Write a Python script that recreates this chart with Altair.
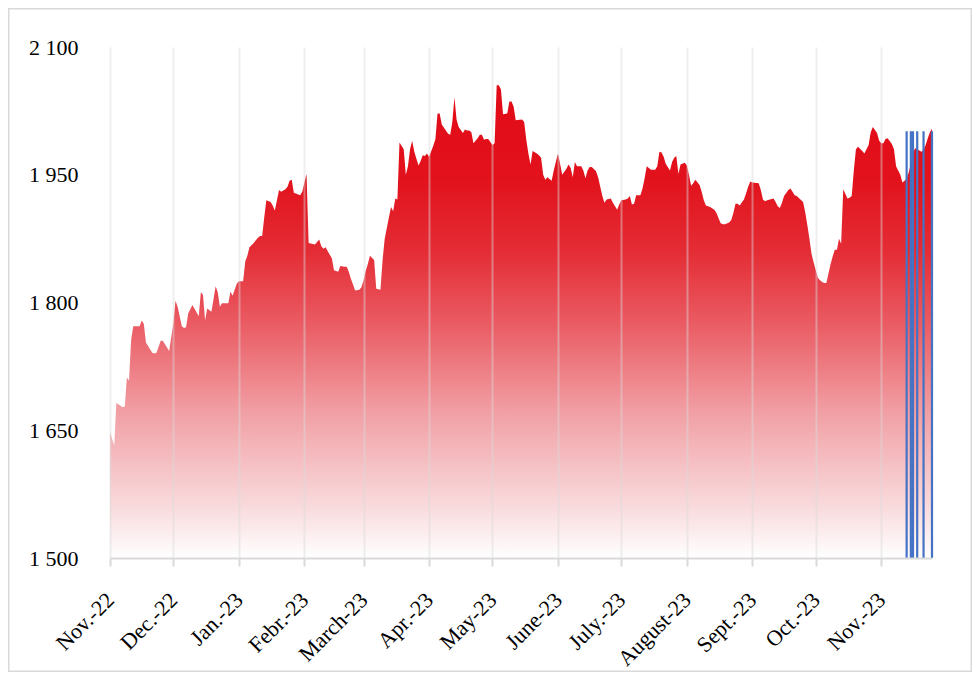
import altair as alt
import pandas as pd

# ---- data ----
dates = [
    "2022-11-01", "2022-11-03", "2022-11-04", "2022-11-07", "2022-11-08", "2022-11-09", "2022-11-10",
    "2022-11-11", "2022-11-12", "2022-11-14", "2022-11-15", "2022-11-16", "2022-11-17", "2022-11-18",
    "2022-11-21", "2022-11-22", "2022-11-23", "2022-11-25", "2022-11-26", "2022-11-29", "2022-12-01",
    "2022-12-02", "2022-12-03", "2022-12-05", "2022-12-06", "2022-12-07", "2022-12-08", "2022-12-10",
    "2022-12-13", "2022-12-14", "2022-12-15", "2022-12-16", "2022-12-17", "2022-12-19", "2022-12-21",
    "2022-12-22", "2022-12-23", "2022-12-24", "2022-12-27", "2022-12-28", "2022-12-29", "2022-12-31",
    "2023-01-01", "2023-01-03", "2023-01-04", "2023-01-05", "2023-01-06", "2023-01-08", "2023-01-09",
    "2023-01-10", "2023-01-11", "2023-01-12", "2023-01-13", "2023-01-14", "2023-01-16", "2023-01-17",
    "2023-01-18", "2023-01-19", "2023-01-20", "2023-01-21", "2023-01-23", "2023-01-24", "2023-01-25",
    "2023-01-26", "2023-01-27", "2023-01-30", "2023-01-31", "2023-02-01", "2023-02-02", "2023-02-03",
    "2023-02-06", "2023-02-08", "2023-02-09", "2023-02-10", "2023-02-11", "2023-02-13", "2023-02-14",
    "2023-02-15", "2023-02-17", "2023-02-18", "2023-02-20", "2023-02-21", "2023-02-22", "2023-02-23",
    "2023-02-24", "2023-02-25", "2023-02-27", "2023-02-28", "2023-03-01", "2023-03-02", "2023-03-03",
    "2023-03-04", "2023-03-06", "2023-03-07", "2023-03-09", "2023-03-10", "2023-03-11", "2023-03-13",
    "2023-03-14", "2023-03-15", "2023-03-16", "2023-03-17", "2023-03-18", "2023-03-20", "2023-03-21",
    "2023-03-22", "2023-03-23", "2023-03-24", "2023-03-25", "2023-03-27", "2023-03-28", "2023-03-29",
    "2023-03-30", "2023-03-31", "2023-04-01", "2023-04-03", "2023-04-04", "2023-04-05", "2023-04-06",
    "2023-04-07", "2023-04-10", "2023-04-11", "2023-04-12", "2023-04-13", "2023-04-14", "2023-04-15",
    "2023-04-17", "2023-04-18", "2023-04-19", "2023-04-20", "2023-04-21", "2023-04-22", "2023-04-24",
    "2023-04-25", "2023-04-26", "2023-04-27", "2023-04-28", "2023-04-29", "2023-05-01", "2023-05-02",
    "2023-05-03", "2023-05-04", "2023-05-05", "2023-05-06", "2023-05-08", "2023-05-09", "2023-05-10",
    "2023-05-11", "2023-05-12", "2023-05-15", "2023-05-16", "2023-05-17", "2023-05-18", "2023-05-19",
    "2023-05-20", "2023-05-22", "2023-05-23", "2023-05-24", "2023-05-25", "2023-05-26", "2023-05-27",
    "2023-05-29", "2023-05-30", "2023-05-31", "2023-06-01", "2023-06-02", "2023-06-03", "2023-06-05",
    "2023-06-06", "2023-06-07", "2023-06-08", "2023-06-09", "2023-06-10", "2023-06-12", "2023-06-13",
    "2023-06-14", "2023-06-15", "2023-06-16", "2023-06-17", "2023-06-19", "2023-06-20", "2023-06-21",
    "2023-06-22", "2023-06-23", "2023-06-24", "2023-06-26", "2023-06-27", "2023-06-28", "2023-06-29",
    "2023-06-30", "2023-07-01", "2023-07-03", "2023-07-04", "2023-07-05", "2023-07-06", "2023-07-07",
    "2023-07-08", "2023-07-10", "2023-07-11", "2023-07-12", "2023-07-13", "2023-07-14", "2023-07-15",
    "2023-07-17", "2023-07-18", "2023-07-19", "2023-07-20", "2023-07-21", "2023-07-22", "2023-07-24",
    "2023-07-25", "2023-07-26", "2023-07-27", "2023-07-28", "2023-07-29", "2023-07-31", "2023-08-01",
    "2023-08-02", "2023-08-03", "2023-08-04", "2023-08-05", "2023-08-07", "2023-08-08", "2023-08-09",
    "2023-08-10", "2023-08-11", "2023-08-12", "2023-08-14", "2023-08-15", "2023-08-16", "2023-08-17",
    "2023-08-18", "2023-08-19", "2023-08-21", "2023-08-22", "2023-08-23", "2023-08-24", "2023-08-25",
    "2023-08-26", "2023-08-28", "2023-08-29", "2023-08-30", "2023-08-31", "2023-09-01", "2023-09-04",
    "2023-09-05", "2023-09-06", "2023-09-07", "2023-09-08", "2023-09-11", "2023-09-12", "2023-09-13",
    "2023-09-14", "2023-09-15", "2023-09-16", "2023-09-18", "2023-09-19", "2023-09-20", "2023-09-21",
    "2023-09-22", "2023-09-25", "2023-09-26", "2023-09-27", "2023-09-28", "2023-09-29", "2023-09-30",
    "2023-10-02", "2023-10-03", "2023-10-04", "2023-10-05", "2023-10-06", "2023-10-07", "2023-10-08",
    "2023-10-09", "2023-10-10", "2023-10-11", "2023-10-12", "2023-10-13", "2023-10-14", "2023-10-16",
    "2023-10-17", "2023-10-18", "2023-10-19", "2023-10-20", "2023-10-21", "2023-10-23", "2023-10-24",
    "2023-10-25", "2023-10-26", "2023-10-27", "2023-10-28", "2023-10-30", "2023-10-31", "2023-11-01",
    "2023-11-02", "2023-11-03", "2023-11-04", "2023-11-06", "2023-11-07", "2023-11-08", "2023-11-09",
    "2023-11-10", "2023-11-11", "2023-11-13", "2023-11-14", "2023-11-15", "2023-11-16", "2023-11-17",
    "2023-11-18", "2023-11-20", "2023-11-21", "2023-11-22", "2023-11-23", "2023-11-24", "2023-11-25",
]
values = [
    1648, 1632, 1682, 1677, 1678, 1712, 1708,
    1756, 1772, 1772, 1772, 1779, 1775, 1753,
    1741, 1740, 1741, 1755, 1755, 1743, 1776,
    1802, 1795, 1772, 1770, 1771, 1787, 1797,
    1784, 1812, 1809, 1779, 1793, 1789, 1819,
    1812, 1795, 1799, 1799, 1813, 1808, 1822,
    1825, 1825, 1848, 1855, 1865, 1870, 1873,
    1876, 1878, 1878, 1900, 1920, 1918, 1914,
    1908, 1920, 1932, 1930, 1933, 1936, 1943,
    1944, 1929, 1926, 1930, 1941, 1951, 1870,
    1868, 1874, 1866, 1863, 1865, 1856, 1852,
    1838, 1836, 1843, 1842, 1842, 1836, 1828,
    1821, 1814, 1815, 1818, 1826, 1837, 1845,
    1855, 1850, 1816, 1815, 1850, 1875, 1900,
    1912, 1907, 1922, 1921, 1988, 1980, 1950,
    1960, 1980, 1990, 1977, 1961, 1966, 1973,
    1972, 1975, 1971, 1984, 1992, 2022, 2022,
    2009, 1998, 1997, 2012, 2041, 2015, 2006,
    1999, 2003, 2002, 2002, 2000, 1987, 1993,
    1997, 1997, 1991, 1992, 1992, 1985, 1987,
    2055, 2055, 2050, 2021, 2022, 2036, 2036,
    2030, 2014, 2015, 2012, 1991, 1975, 1962,
    1978, 1975, 1973, 1970, 1950, 1944, 1947,
    1943, 1955, 1965, 1975, 1963, 1950, 1957,
    1962, 1958, 1947, 1965, 1960, 1960, 1955,
    1946, 1955, 1959, 1959, 1954, 1947, 1936,
    1925, 1917, 1921, 1922, 1917, 1913, 1909,
    1915, 1920, 1921, 1922, 1925, 1915, 1916,
    1926, 1926, 1934, 1946, 1960, 1958, 1956,
    1956, 1960, 1977, 1976, 1971, 1963, 1955,
    1965, 1970, 1972, 1951, 1962, 1964, 1961,
    1950, 1937, 1940, 1944, 1938, 1930, 1920,
    1914, 1913, 1912, 1909, 1905, 1899, 1893,
    1892, 1892, 1894, 1897, 1905, 1916, 1916,
    1914, 1921, 1928, 1936, 1942, 1941, 1940,
    1932, 1921, 1919, 1920, 1922, 1918, 1913,
    1911, 1917, 1925, 1932, 1934, 1930, 1926,
    1925, 1918, 1906, 1891, 1875, 1857, 1847,
    1829, 1826, 1824, 1823, 1823, 1834, 1845,
    1854, 1862, 1862, 1875, 1869, 1933, 1922,
    1923, 1925, 1955, 1980, 1983, 1978, 1975,
    1980, 1985, 2000, 2006, 1999, 1990, 1987,
    1987, 1992, 1993, 1986, 1980, 1960, 1955,
    1950, 1941, 1945, 1953, 1963, 1975, 1981,
    1980, 1977, 1979, 1985, 1993, 2000, 2004,
]

blue_dates = ["2023-11-13", "2023-11-15", "2023-11-16", "2023-11-18", "2023-11-21", "2023-11-25"]
blue_values = [2001, 2001, 2001, 2001, 2001, 2001]

month_ticks = [
    "2022-11-01", "2022-12-01", "2023-01-01", "2023-02-01", "2023-03-01", "2023-04-01", "2023-05-01",
    "2023-06-01", "2023-07-01", "2023-08-01", "2023-09-01", "2023-10-01", "2023-11-01",
]
month_labels = [
    "Nov.-22", "Dec.-22", "Jan.-23", "Febr.-23", "March-23", "Apr.-23", "May-23",
    "June-23", "July.-23", "August-23", "Sept.-23", "Oct.-23", "Nov.-23",
]
y_ticks = [1500, 1650, 1800, 1950, 2100]
y_domain = [1500, 2100]

FONT = "Liberation Serif"


def dt(s):
    y, m, d = (int(p) for p in s.split("-"))
    return alt.DateTime(year=y, month=m, date=d, utc=True)


label_array = "[" + ",".join("'" + l + "'" for l in month_labels) + "]"
x_label_expr = label_array + "[round((utcyear(datum.value)-2022)*12 + utcmonth(datum.value) - 10)]"

x_scale = alt.Scale(type="utc", domain=[dt(dates[0]), dt(dates[-1])], padding=0, nice=False)
y_scale = alt.Scale(domain=y_domain, nice=False, zero=False, padding=0)

x_axis = alt.Axis(
    values=[dt(s) for s in month_ticks],
    labelExpr=x_label_expr,
    labelAngle=-45,
    labelAlign="right",
    labelBaseline="middle",
    labelPadding=30,
    labelFont=FONT,
    labelFontSize=22,
    labelColor="#000000",
    labelOverlap=False,
    labelFlush=False,
    labelBound=False,
    domainColor="#D9D9D9",
    domainWidth=2,
    tickColor="#D9D9D9",
    tickWidth=2,
    tickSize=8,
    grid=True,
    gridColor="#D9D9D9",
    gridWidth=2,
    gridOpacity=0.45,
    zindex=1,
    title=None,
)
y_axis = alt.Axis(
    values=y_ticks,
    labelExpr="replace(format(datum.value, ','), ',', ' ')",
    labelFont=FONT,
    labelFontSize=22,
    labelColor="#000000",
    labelPadding=32,
    ticks=False,
    domain=False,
    grid=False,
    title=None,
)

gradient = alt.Gradient(
    gradient="linear",
    x1=0, x2=0, y1=1, y2=0,
    stops=[
        alt.GradientStop(color="#FFFFFF", offset=0.0),
        alt.GradientStop(color="#F9DDDF", offset=0.1),
        alt.GradientStop(color="#F1A2A7", offset=0.3),
        alt.GradientStop(color="#EA5A62", offset=0.5),
        alt.GradientStop(color="#E42C35", offset=0.65),
        alt.GradientStop(color="#E2121C", offset=0.8),
        alt.GradientStop(color="#E20A16", offset=1.0),
    ],
)

df = pd.DataFrame({"date": dates, "value": values})
blue_df = pd.DataFrame({"date": blue_dates, "value": blue_values})

area = alt.Chart(df).mark_area(interpolate="linear", color=gradient, clip=True).encode(
    x=alt.X("date:T", scale=x_scale, axis=x_axis),
    y=alt.Y("value:Q", scale=y_scale, axis=y_axis),
    y2=alt.datum(y_domain[0]),
)

rules = alt.Chart(blue_df).mark_rule(color="#4472C4", strokeWidth=2.2).encode(
    x=alt.X("date:T", scale=x_scale, axis=x_axis),
    y=alt.Y("value:Q", scale=y_scale, axis=y_axis),
    y2=alt.datum(y_domain[0]),
)

frame = alt.Chart(alt.Data(values=[{}])).mark_rect(
    fillOpacity=0, stroke="#D9D9D9", strokeWidth=1.5
).encode(
    x=alt.value(-101.25), x2=alt.value(861.25), y=alt.value(-38.25), y2=alt.value(624.25)
)

chart = alt.layer(area, rules, frame).properties(
    width=822,
    height=511,
    autosize="none",
    padding={"left": 102, "top": 39, "right": 40, "bottom": 114},
    background="#FFFFFF",
).configure_view(stroke=None)

chart.save("out.html", embed_options={"renderer": "svg", "actions": False})
